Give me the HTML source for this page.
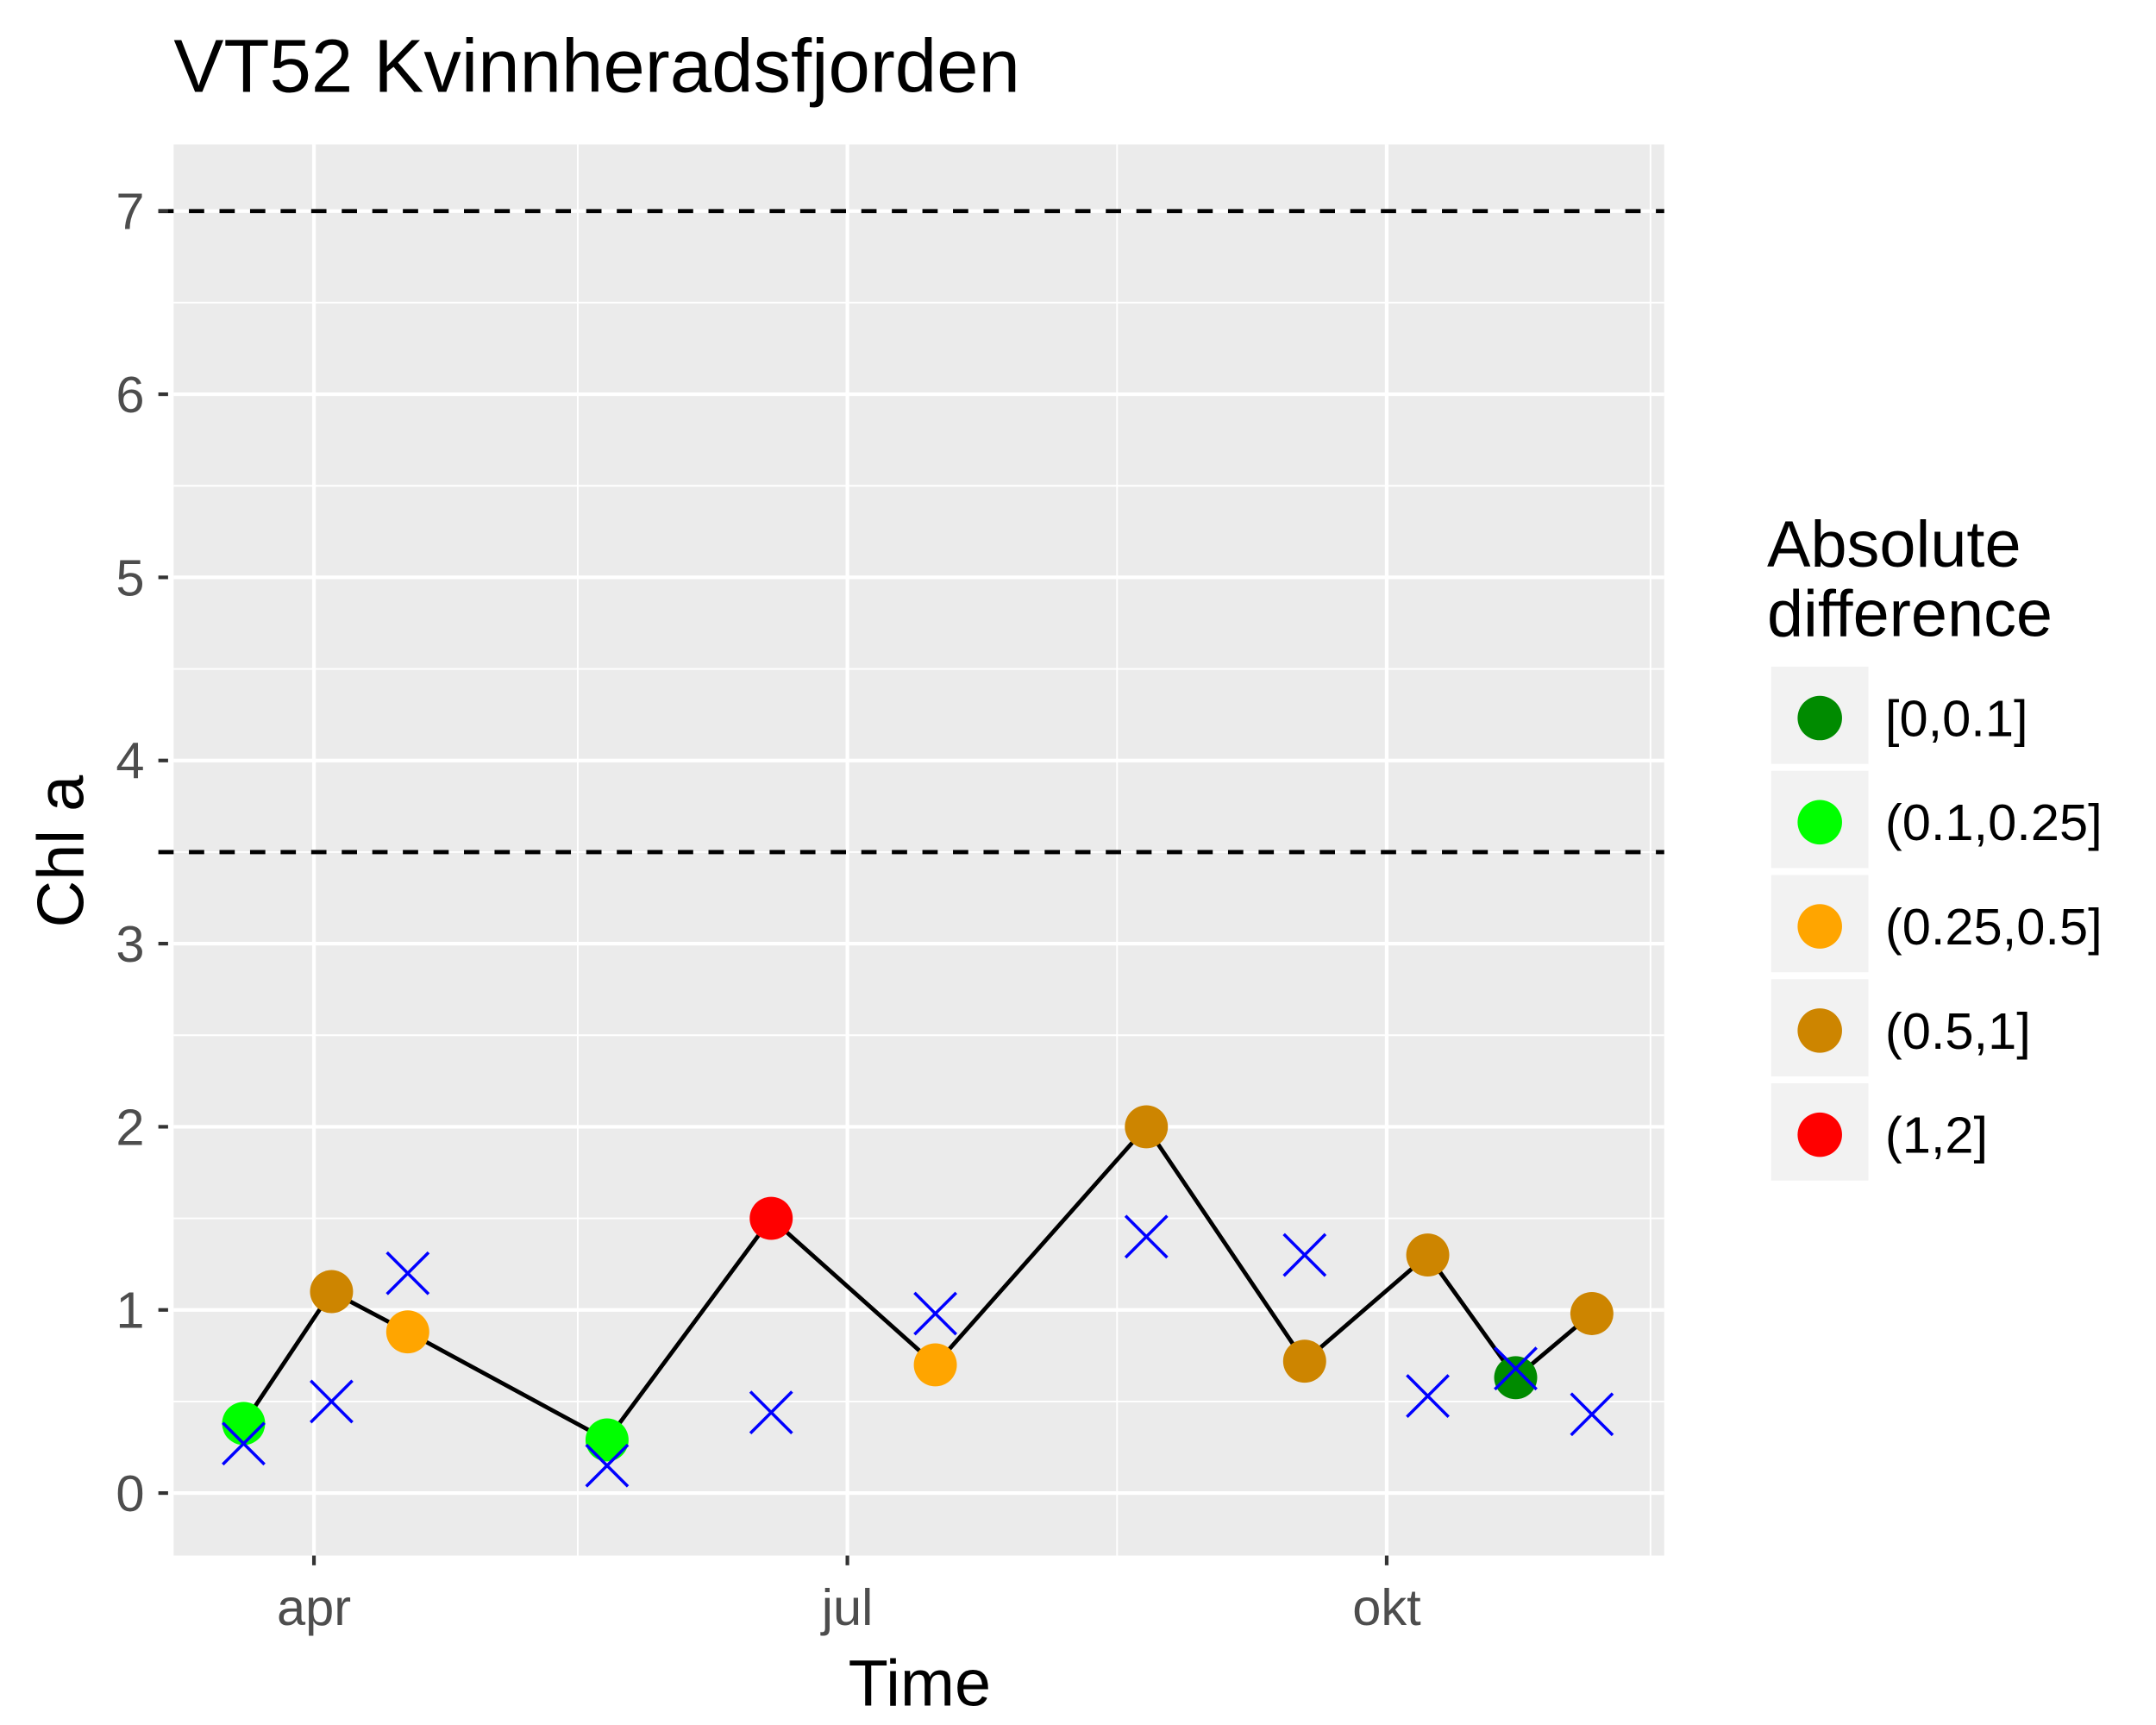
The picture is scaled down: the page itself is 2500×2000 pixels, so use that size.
<!DOCTYPE html>
<html><head><meta charset="utf-8"><style>
html,body{margin:0;padding:0;background:#fff;}
svg{display:block;font-family:"Liberation Sans",Arial,sans-serif;}
</style></head><body>
<svg id="chart" width="2500" height="2000" viewBox="0 0 1552 1242" preserveAspectRatio="none" xmlns="http://www.w3.org/2000/svg">
<text x="125" y="66" font-size="54" fill="#000">VT52 Kvinnheradsfjorden</text>
<rect x="125" y="104" width="1073" height="1016" fill="#ebebeb"/>
<g id="grid"></g>
<g id="refs"></g>
<g id="series"></g>
<g id="axes"></g>
<text transform="translate(60,613) rotate(-90)" text-anchor="middle" font-size="47" fill="#000">Chl a</text>
<text x="662" y="1228" text-anchor="middle" font-size="47" fill="#000">Time</text>
<g>
<text x="1272" y="408" font-size="47" fill="#000">Absolute</text>
<text x="1272" y="458" font-size="47" fill="#000">difference</text>
<g id="legend-keys"></g>
</g>
</svg>
<script>
const dates = ["2017-03-20","2017-04-04","2017-04-17","2017-05-21","2017-06-18","2017-07-16","2017-08-21","2017-09-17","2017-10-08","2017-10-23","2017-11-05"];
const chlValues = [0.38,1.1,0.88,0.29,1.5,0.7,2.0,0.72,1.3,0.63,0.98];
const crossValues = [0.27,0.5,1.2,0.15,0.44,0.98,1.4,1.3,0.53,0.68,0.43];
const diffClass = [1,3,2,1,4,2,3,3,3,0,3];
const classLabels = ["[0,0.1]","(0.1,0.25]","(0.25,0.5]","(0.5,1]","(1,2]"];
const classColors = ["#008b00","#00ff00","#ffa500","#cd8500","#ff0000"];
const yTicks = [0,1,2,3,4,5,6,7];
const refLines = [3.5,7];
const xTickDates = ["2017-04-01","2017-07-01","2017-10-01"];
const xTickLabels = ["apr","jul","okt"];
const xMinorDates = ["2017-05-16","2017-08-16","2017-11-15"];

const NS="http://www.w3.org/2000/svg";
const day=86400000;
const t0=Date.UTC(2017,3,1);
function X(d){const p=d.split("-");const t=Date.UTC(+p[0],+p[1]-1,+p[2]);return 226+(t-t0)/day*4.2198;}
function Y(v){return 1075-v*131.86;}
function mk(tag,attrs,parent){const e=document.createElementNS(NS,tag);for(const k in attrs)e.setAttribute(k,attrs[k]);parent.appendChild(e);return e;}
const grid=document.getElementById('grid'),refs=document.getElementById('refs'),series=document.getElementById('series'),axes=document.getElementById('axes'),leg=document.getElementById('legend-keys');

yTicks.forEach((v,i)=>{
  if(i<yTicks.length-1){const m=mk('line',{x1:125,x2:1198,y1:Y(v+0.5),y2:Y(v+0.5),stroke:'#fff','stroke-width':1.2},grid);
  
  }
  const g=mk('line',{x1:125,x2:1198,y1:Y(v),y2:Y(v),stroke:'#fff','stroke-width':2.6},grid);
  
  
  const tk=mk('line',{x1:114,x2:121,y1:Y(v),y2:Y(v),stroke:'#333','stroke-width':2.6},axes);
  
  
  const tx=mk('text',{x:104,y:Y(v)+13,'text-anchor':'end','font-size':37,fill:'#4d4d4d'},axes);
  tx.textContent=v;
  
  
});
xMinorDates.forEach(d=>{
  const m=mk('line',{x1:X(d),x2:X(d),y1:104,y2:1120,stroke:'#fff','stroke-width':1.2},grid);
  
  
});
xTickDates.forEach((d,i)=>{
  const g=mk('line',{x1:X(d),x2:X(d),y1:104,y2:1120,stroke:'#fff','stroke-width':2.6},grid);
  
  
  const tk=mk('line',{x1:X(d),x2:X(d),y1:1120,y2:1127,stroke:'#333','stroke-width':2.6},axes);
  
  
  const tx=mk('text',{x:X(d),y:1170,'text-anchor':'middle','font-size':37,fill:'#4d4d4d'},axes);
  tx.textContent=xTickLabels[i];
  
  
});
refLines.forEach(v=>{
  const l=mk('line',{x1:114,x2:1198,y1:Y(v),y2:Y(v),stroke:'#000','stroke-width':3,'stroke-dasharray':'11,11'},refs);
  
  
});
const pts=dates.map((d,i)=>X(d).toFixed(1)+','+Y(chlValues[i]).toFixed(1)).join(' ');
const pl=mk('polyline',{points:pts,fill:'none',stroke:'#000','stroke-width':3},series);


dates.forEach((d,i)=>{
  const c=mk('circle',{cx:X(d),cy:Y(chlValues[i]),r:15.5,fill:classColors[diffClass[i]]},series);
  
  
});
dates.forEach((d,i)=>{
  const x=X(d),y=Y(crossValues[i]),s=15;
  const p=mk('path',{d:`M${x-s},${y-s}L${x+s},${y+s}M${x-s},${y+s}L${x+s},${y-s}`,stroke:'#0000ff','stroke-width':2.2,fill:'none'},series);
  
  
});
classLabels.forEach((lab,i)=>{
  const y0=480+i*75;
  const r=mk('rect',{x:1275,y:y0,width:70,height:70,fill:'#f2f2f2'},leg);
  
  
  const c=mk('circle',{cx:1310,cy:y0+37,r:16,fill:classColors[i]},leg);
  
  
  const t=mk('text',{x:1357,y:y0+50,'font-size':37,fill:'#000'},leg);
  t.textContent=lab;
  
  
});
</script>
</body></html>
